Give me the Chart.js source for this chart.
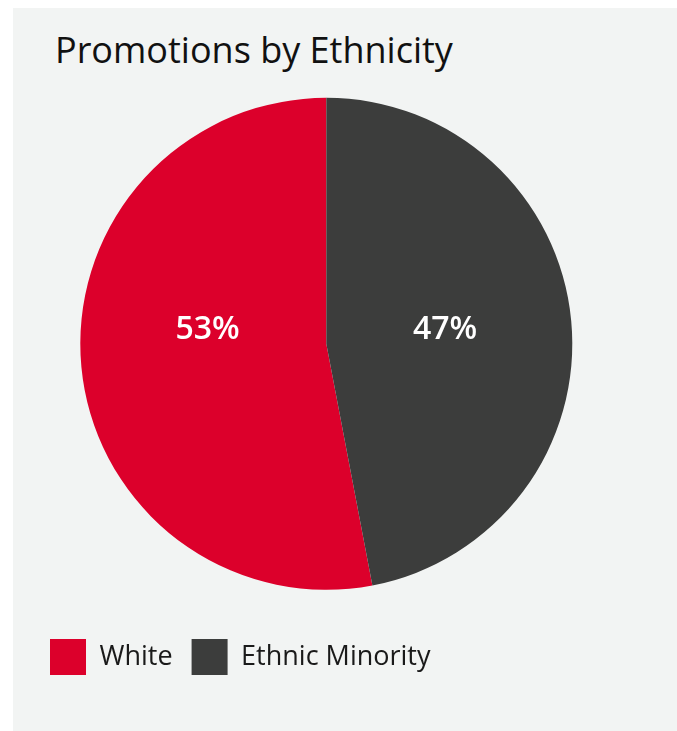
<!DOCTYPE html>
<html>
<head>
<meta charset="utf-8">
<title>Promotions by Ethnicity</title>
<script src="https://cdn.jsdelivr.net/npm/chart.js@4/dist/chart.umd.min.js"></script>
<style>
    body {
        margin: 0;
        background: #fff;
        font-family: "Open Sans", sans-serif;
    }
    #painel {
        position: absolute;
        left: 13px;
        top: 8px;
        width: 664px;
        height: 723px;
        background: #f2f4f3;
    }
    #titulo {
        position: absolute;
        left: 42px;
        top: 24px;
        margin: 0;
        font-size: 36px;
        line-height: 36px;
        font-weight: 400;
        color: #111;
        white-space: nowrap;
    }
    #grafico {
        position: absolute;
        left: 0;
        top: 0;
    }
</style>
</head>
<body>
<div id="painel">
    <h1 id="titulo">Promotions by Ethnicity</h1>
    <canvas id="grafico" width="664" height="723"></canvas>
</div>
<script>
let labels = ['White', 'Ethnic Minority']
let valores = [53, 47]
let cores = ['#dc002b', '#3c3d3c']

let total = valores.reduce((a, b) => a + b, 0)

// percentagens escritas dentro de cada fatia
const rotulos = {
    id: 'rotulos',
    afterDatasetsDraw(chart) {
        let ctx = chart.ctx
        let meta = chart.getDatasetMeta(0)
        ctx.save()
        ctx.fillStyle = '#fff'
        ctx.font = '600 32px "Open Sans"'
        ctx.textAlign = 'center'
        ctx.textBaseline = 'middle'
        meta.data.forEach((arc, i) => {
            let meio = (arc.startAngle + arc.endAngle) / 2
            let x = arc.x + Math.cos(meio) * arc.outerRadius * 0.485
            let y = arc.y - arc.outerRadius * 0.058
            ctx.fillText(Math.round(valores[i] / total * 100) + '%', x, y)
        })
        ctx.restore()
    }
}

var ctx = document.getElementById('grafico').getContext('2d');
var grafico = new Chart(ctx, {
    type: 'pie',
    data: {
        labels: labels,
        datasets: [
            {
                data: valores,
                backgroundColor: cores,
                borderWidth: 0,
                radius: 246
            }
        ]
    },
    options: {
        responsive: false,
        animation: false,
        // a fatia "White" começa onde termina a outra, lida a partir do topo
        rotation: valores[1] / total * 360,
        layout: {
            padding: { left: 18, right: 55.4, top: 59.6, bottom: 46 }
        },
        plugins: {
            tooltip: { enabled: false },
            legend: {
                position: 'bottom',
                align: 'start',
                labels: {
                    boxWidth: 36,
                    boxHeight: 36,
                    padding: 19,
                    color: '#1a1a1a',
                    font: { family: 'Open Sans', size: 27 }
                }
            }
        }
    },
    plugins: [rotulos]
});
</script>
</body>
</html>
